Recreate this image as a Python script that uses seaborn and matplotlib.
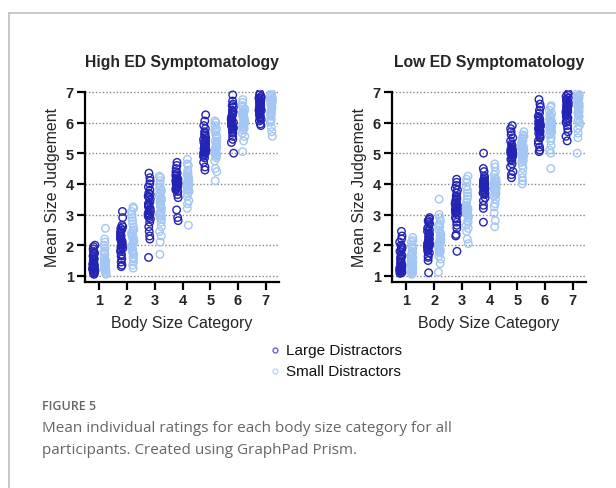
import numpy as np
import pandas as pd
import matplotlib
matplotlib.use("Agg")
import matplotlib.pyplot as plt
from matplotlib.lines import Line2D
import seaborn as sns

categories = ["1", "2", "3", "4", "5", "6", "7"]
groups = ["Large Distractors", "Small Distractors"]
panel_titles = ["High ED Symptomatology", "Low ED Symptomatology"]

high_large = [
    [1.05,1.08,1.1,1.12,1.15,1.18,1.2,1.2,1.22,1.25,1.25,1.28,1.3,1.3,1.32,1.35,1.38,1.4,1.42,1.45,1.5,1.55,1.6,1.65,1.7,1.75,1.8,1.88,1.95,2.0],
    [1.3,1.35,1.45,1.55,1.65,1.7,1.8,1.85,1.9,1.95,2.0,2.0,2.05,2.1,2.15,2.2,2.25,2.3,2.35,2.4,2.45,2.5,2.55,2.6,2.65,1.95,2.1,2.3,2.9,3.1],
    [1.6,2.2,2.3,2.45,2.6,2.75,2.85,2.9,2.95,3.0,3.05,3.1,3.15,3.2,3.25,3.3,3.4,3.5,3.55,3.6,3.65,3.7,3.8,3.9,4.0,4.1,4.2,4.35,3.0,3.35],
    [2.8,2.9,3.15,3.55,3.65,3.75,3.8,3.85,3.9,3.92,3.95,4.0,4.0,4.02,4.05,4.08,4.1,4.12,4.15,4.2,4.25,4.3,4.35,4.4,4.5,4.6,4.7,3.95,4.05,3.85],
    [4.45,4.55,4.7,4.85,4.9,4.95,5.0,5.0,5.05,5.1,5.1,5.15,5.2,5.2,5.25,5.3,5.35,5.4,5.45,5.5,5.55,5.6,5.65,5.7,5.8,5.9,6.05,6.25,5.05,5.15],
    [5.0,5.35,5.45,5.55,5.65,5.7,5.75,5.8,5.8,5.85,5.85,5.9,5.95,6.0,6.05,6.1,6.15,6.2,6.25,6.3,6.35,6.4,6.5,6.55,6.6,6.7,6.9,5.9,6.0,5.85],
    [5.9,5.95,6.05,6.1,6.15,6.2,6.25,6.3,6.35,6.4,6.4,6.45,6.5,6.5,6.55,6.6,6.6,6.65,6.7,6.7,6.75,6.8,6.8,6.85,6.9,6.95,6.4,6.3,6.5,6.6],
]
high_small = [
    [1.05,1.1,1.15,1.2,1.22,1.25,1.28,1.3,1.32,1.35,1.35,1.38,1.4,1.42,1.45,1.48,1.5,1.55,1.6,1.7,1.75,1.8,1.9,2.0,2.1,2.2,2.55,1.25,1.3,1.4],
    [1.25,1.35,1.45,1.55,1.6,1.7,1.75,1.8,1.85,1.9,2.0,2.05,2.1,2.15,2.2,2.3,2.35,2.45,2.5,2.6,2.7,2.8,2.9,3.0,3.1,3.2,3.25,1.95,2.25,2.4],
    [1.7,2.1,2.3,2.45,2.6,2.75,2.85,2.9,3.0,3.05,3.1,3.2,3.3,3.35,3.4,3.45,3.5,3.6,3.7,3.75,3.8,3.9,4.0,4.1,4.2,4.25,2.95,3.25,3.55,3.85],
    [2.65,3.2,3.35,3.45,3.6,3.7,3.8,3.85,3.9,3.95,4.0,4.0,4.05,4.1,4.15,4.2,4.25,4.3,4.35,4.45,4.6,4.65,4.8,3.95,4.05,4.1,3.75,4.0,3.9,4.2],
    [4.1,4.4,4.5,4.75,4.85,4.9,4.95,5.0,5.05,5.1,5.15,5.2,5.25,5.3,5.35,5.4,5.5,5.55,5.6,5.7,5.75,5.8,5.9,6.0,6.05,5.0,5.1,5.2,5.3,4.95],
    [5.05,5.4,5.55,5.65,5.75,5.8,5.85,5.9,5.95,6.0,6.05,6.1,6.15,6.2,6.25,6.3,6.35,6.4,6.45,6.5,6.55,6.65,6.75,6.0,6.1,5.9,6.2,6.3,5.85,6.05],
    [5.55,5.7,5.85,6.0,6.05,6.1,6.2,6.25,6.3,6.35,6.4,6.45,6.5,6.5,6.55,6.6,6.65,6.7,6.7,6.75,6.8,6.85,6.9,6.95,6.45,6.55,6.6,6.35,6.75,6.85],
]
low_large = [
    [1.08,1.1,1.12,1.15,1.18,1.2,1.2,1.22,1.25,1.25,1.28,1.3,1.3,1.35,1.4,1.45,1.5,1.55,1.6,1.65,1.7,1.8,1.85,1.9,1.95,2.0,2.1,2.2,2.3,2.45],
    [1.1,1.5,1.6,1.65,1.75,1.8,1.85,1.9,1.95,2.0,2.0,2.05,2.1,2.15,2.2,2.25,2.3,2.4,2.45,2.5,2.55,2.6,2.7,2.75,2.8,2.85,2.9,1.95,2.05,2.35],
    [1.8,2.3,2.35,2.55,2.65,2.75,2.85,2.9,3.0,3.05,3.1,3.15,3.2,3.25,3.3,3.35,3.4,3.45,3.5,3.55,3.6,3.7,3.8,3.85,3.95,4.05,4.15,3.2,3.3,3.1],
    [2.75,3.2,3.3,3.45,3.55,3.65,3.7,3.75,3.8,3.85,3.9,3.92,3.95,4.0,4.0,4.05,4.1,4.15,4.2,4.25,4.4,4.5,5.0,3.95,4.05,3.9,3.85,4.0,3.7,4.1],
    [4.2,4.3,4.4,4.55,4.65,4.75,4.8,4.85,4.9,4.95,5.0,5.0,5.02,5.05,5.08,5.1,5.12,5.15,5.2,5.25,5.3,5.4,5.5,5.6,5.7,5.8,5.9,5.0,5.05,4.95],
    [5.05,5.1,5.2,5.3,5.4,5.5,5.55,5.6,5.65,5.7,5.75,5.8,5.8,5.85,5.9,5.9,5.95,6.0,6.05,6.1,6.15,6.2,6.3,6.4,6.5,6.6,6.75,5.85,5.95,5.75],
    [5.4,5.55,5.7,5.8,5.9,6.0,6.05,6.1,6.15,6.2,6.25,6.3,6.35,6.4,6.4,6.45,6.5,6.55,6.6,6.65,6.7,6.75,6.8,6.85,6.9,6.95,6.35,6.45,6.5,6.6],
]
low_small = [
    [1.05,1.08,1.1,1.15,1.2,1.22,1.25,1.3,1.3,1.35,1.4,1.45,1.5,1.55,1.6,1.65,1.7,1.75,1.8,1.9,1.95,2.0,2.1,2.15,2.25,1.2,1.3,1.4,1.15,1.25],
    [1.12,1.4,1.55,1.65,1.75,1.8,1.85,1.9,1.95,2.0,2.05,2.1,2.15,2.2,2.25,2.3,2.4,2.5,2.6,2.65,2.7,2.8,2.9,3.0,3.5,1.95,2.1,2.2,1.85,2.35],
    [2.05,2.2,2.45,2.55,2.65,2.75,2.8,2.9,2.95,3.0,3.05,3.1,3.15,3.2,3.25,3.3,3.4,3.5,3.6,3.7,3.8,3.9,4.05,4.15,4.25,3.1,3.2,3.15,3.05,3.25],
    [2.6,2.8,3.05,3.25,3.35,3.5,3.6,3.65,3.7,3.75,3.8,3.85,3.9,3.95,4.0,4.0,4.05,4.1,4.15,4.2,4.3,4.4,4.55,4.65,3.95,4.05,3.9,4.1,3.85,3.8],
    [4.0,4.1,4.2,4.35,4.5,4.6,4.7,4.75,4.8,4.85,4.9,4.95,5.0,5.05,5.1,5.15,5.2,5.25,5.3,5.35,5.4,5.45,5.5,5.55,5.6,5.7,4.9,5.0,5.1,5.2],
    [4.5,5.0,5.1,5.25,5.4,5.5,5.6,5.65,5.7,5.75,5.8,5.85,5.9,5.95,6.0,6.05,6.1,6.15,6.2,6.3,6.4,6.5,6.55,5.9,6.0,5.8,5.85,6.05,6.25,5.95],
    [5.0,5.5,5.65,5.8,5.9,6.0,6.05,6.1,6.2,6.25,6.3,6.35,6.4,6.45,6.5,6.55,6.6,6.65,6.7,6.75,6.8,6.85,6.9,6.95,6.4,6.5,6.6,6.3,6.75,6.85],
]

dark_blue = "#2323b4"
light_blue = "#a3c6f2"
palette = {groups[0]: dark_blue, groups[1]: light_blue}


def long_frame(large, small):
    rows = []
    for cat, lv, sv in zip(categories, large, small):
        rows += [(cat, groups[0], v) for v in lv]
        rows += [(cat, groups[1], v) for v in sv]
    return pd.DataFrame(rows, columns=["cat", "group", "value"])


sns.set_theme(style="white")
plt.rcParams["font.family"] = ["Liberation Sans", "DejaVu Sans"]

W, H = 616, 489
fig = plt.figure(figsize=(W / 100, H / 100), dpi=100)


def fx(px):
    return px / W


def fy(py):
    return 1 - py / H


ax_top, ax_bot = 91.0, 283.0
axes_specs = [(85, 279), (392, 586)]
frames = [long_frame(high_large, high_small), long_frame(low_large, low_small)]

np.random.seed(3)
for (x0, x1), df, title in zip(axes_specs, frames, panel_titles):
    ax = fig.add_axes([fx(x0), fy(ax_bot), fx(x1 - x0), (ax_bot - ax_top) / H])
    ax.set_ylim(0.8, 7.06)
    for yv in range(1, 8):
        ax.axhline(yv, color="#888888", lw=1.0, ls=(0, (1, 1.5)), zorder=0)
    sns.stripplot(data=df, x="cat", y="value", hue="group", order=categories,
                  hue_order=groups, palette=palette, dodge=True, jitter=0.09,
                  size=5.4, linewidth=0, legend=False, ax=ax, zorder=3)
    for coll in ax.collections:
        fc = coll.get_facecolor()
        coll.set_edgecolor(fc)
        coll.set_facecolor("none")
        coll.set_linewidth(1.0)
    ax.set_xlim(-0.52, 6.48)
    ax.set_ylim(0.8, 7.06)
    ax.set_yticks(range(1, 8))
    for s in ["top", "right"]:
        ax.spines[s].set_visible(False)
    for s in ["left", "bottom"]:
        ax.spines[s].set_color("black")
        ax.spines[s].set_linewidth(1.6)
    ax.spines["left"].set_bounds(0.8, 7.0)
    ax.tick_params(axis="both", which="major", length=6, width=1.6, color="black",
                   direction="out", left=True, bottom=True, labelsize=10.5,
                   pad=2)
    for lab in ax.get_xticklabels() + ax.get_yticklabels():
        lab.set_fontweight("bold")
    ax.set_xlabel("Body Size Category", fontsize=11.5, labelpad=6)
    ax.set_ylabel("Mean Size Judgement", fontsize=11.5, labelpad=4)
    ax.set_title(title, fontsize=11.3, fontweight="bold", pad=17)

# legend
for py, lab, col in [(351, groups[0], "#6d5fd0"), (372, groups[1], "#c3d6f5")]:
    fig.add_artist(Line2D([fx(275)], [fy(py)], marker="o", markersize=3.5,
                          markerfacecolor="none", markeredgecolor=col,
                          markeredgewidth=1.0, linestyle="none",
                          transform=fig.transFigure))
    fig.text(fx(286), fy(py), lab, fontsize=11, va="center", ha="left",
             color="#111111")

# frame lines
fig.add_artist(Line2D([fx(9), 1.0], [fy(14), fy(14)], color="#c4c4c4", lw=1.3,
                      transform=fig.transFigure))
fig.add_artist(Line2D([fx(9), fx(9)], [fy(14), 0.0], color="#c4c4c4", lw=1.3,
                      transform=fig.transFigure))

# caption
cap_font = ["Open Sans", "DejaVu Sans"]
fig.text(fx(42), fy(406), "FIGURE 5", fontsize=9, fontweight="semibold",
         color="#666666", va="center", ha="left", family=cap_font)
fig.text(fx(42), fy(429), "Mean individual ratings for each body size category for all",
         fontsize=11, color="#666666", va="center", ha="left", family=cap_font)
fig.text(fx(42), fy(451), "participants. Created using GraphPad Prism.",
         fontsize=11, color="#666666", va="center", ha="left", family=cap_font)

fig.savefig("out.png", dpi=100)
